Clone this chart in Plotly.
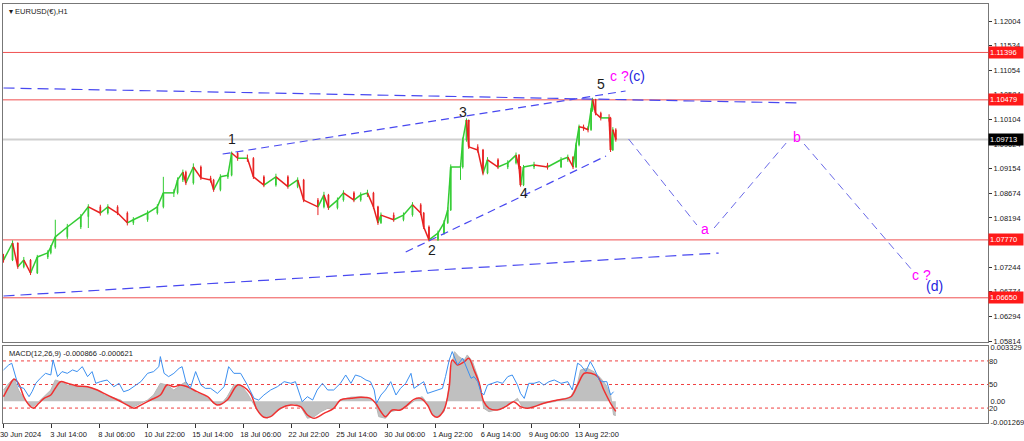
import plotly.graph_objects as go

# ---------------- data ----------------
SYMBOL = "EURUSD(€),H1"
MACD_TITLE = "MACD(12,26,9) -0.000866 -0.000621"

# x = hourly bar index from 30 Jun 2024 22:00 (weekend gaps removed, MT4 style)
tick_bars = [0, 64, 128, 192, 256, 320, 384, 448, 512, 576, 640, 704, 768]
tick_labels = ["30 Jun 2024", "3 Jul 14:00", "8 Jul 06:00", "10 Jul 22:00", "15 Jul 14:00",
               "18 Jul 06:00", "22 Jul 22:00", "25 Jul 14:00", "30 Jul 06:00", "1 Aug 22:00",
               "6 Aug 14:00", "9 Aug 06:00", "13 Aug 22:00"]

price_ticks = [1.12004, 1.11534, 1.11054, 1.10584, 1.10104, 1.09624, 1.09154,
               1.08674, 1.08194, 1.07714, 1.07244, 1.06774, 1.06294, 1.05814]

bars = [0, 12, 19, 27, 36, 45, 59, 63, 69, 85, 103, 113, 129, 139, 152, 165, 173, 192, 205, 213,
        227, 232, 239, 243, 253, 263, 276, 280, 289, 299, 304, 312, 325, 333, 347, 363, 379, 392, 400, 419,
        427, 433, 445, 453, 467, 476, 485, 493, 499, 503, 520, 533, 545, 556, 560, 567, 579, 587, 592, 596,
        609, 612, 617, 620, 632, 639, 645, 659, 672, 683, 687, 689, 693, 707, 725, 743, 752, 759, 763, 767,
        773, 779, 783, 785, 789, 796, 807, 809, 812, 816]
close = [1.0738, 1.0771, 1.0725, 1.0738, 1.0713, 1.0744, 1.0752, 1.0763, 1.0783, 1.0802,
         1.0822, 1.0841, 1.0829, 1.0841, 1.0829, 1.0810, 1.0816, 1.0829, 1.0841, 1.0868,
         1.0868, 1.0893, 1.0908, 1.0887, 1.0918, 1.0897, 1.0893, 1.0874, 1.0899, 1.0902,
         1.0945, 1.0935, 1.0935, 1.0899, 1.0883, 1.0899, 1.0880, 1.0893, 1.0854, 1.0841,
         1.0864, 1.0839, 1.0854, 1.0868, 1.0854, 1.0864, 1.0868, 1.0841, 1.0810, 1.0825,
         1.0816, 1.0825, 1.0845, 1.0829, 1.0802, 1.0777, 1.0790, 1.0810, 1.0835, 1.0918,
         1.0918, 1.0970, 1.1009, 1.0957, 1.0951, 1.0906, 1.0932, 1.0918, 1.0926, 1.0941,
         1.0918, 1.0883, 1.0918, 1.0922, 1.0918, 1.0932, 1.0937, 1.0918, 1.0961, 1.0996,
         1.0994, 1.0990, 1.1028, 1.1049, 1.1022, 1.1013, 1.1013, 1.0951, 1.0990, 1.09713]
high = [1.0750, 1.0776, 1.0772, 1.0744, 1.0740, 1.0748, 1.0757, 1.0767, 1.0816, 1.0808,
        1.0827, 1.0846, 1.0845, 1.0846, 1.0844, 1.0832, 1.0821, 1.0834, 1.0846, 1.0899,
        1.0875, 1.0898, 1.0913, 1.0911, 1.0925, 1.0921, 1.0901, 1.0895, 1.0904, 1.0907,
        1.0948, 1.0947, 1.0942, 1.0937, 1.0902, 1.0905, 1.0902, 1.0898, 1.0895, 1.0858,
        1.0870, 1.0866, 1.0859, 1.0873, 1.0871, 1.0869, 1.0874, 1.0870, 1.0843, 1.0830,
        1.0830, 1.0830, 1.0850, 1.0848, 1.0831, 1.0805, 1.0795, 1.0815, 1.0840, 1.0923,
        1.0925, 1.0975, 1.1012, 1.1005, 1.0962, 1.0953, 1.0937, 1.0935, 1.0931, 1.0946,
        1.0943, 1.0920, 1.0922, 1.0928, 1.0926, 1.0937, 1.0942, 1.0939, 1.0965, 1.1000,
        1.1000, 1.0997, 1.1032, 1.1052, 1.1047, 1.1025, 1.1020, 1.1015, 1.0995, 1.0993]
low = [1.0733, 1.0736, 1.0721, 1.0722, 1.0709, 1.0711, 1.0740, 1.0749, 1.0760, 1.0779,
       1.0798, 1.0800, 1.0824, 1.0826, 1.0825, 1.0805, 1.0806, 1.0812, 1.0826, 1.0838,
       1.0860, 1.0865, 1.0889, 1.0883, 1.0884, 1.0893, 1.0888, 1.0870, 1.0871, 1.0895,
       1.0900, 1.0930, 1.0928, 1.0895, 1.0879, 1.0880, 1.0876, 1.0877, 1.0850, 1.0825,
       1.0838, 1.0835, 1.0836, 1.0851, 1.0850, 1.0851, 1.0860, 1.0837, 1.0806, 1.0808,
       1.0812, 1.0813, 1.0822, 1.0825, 1.0798, 1.0774, 1.0775, 1.0787, 1.0808, 1.0833,
       1.0893, 1.0915, 1.0967, 1.0953, 1.0946, 1.0902, 1.0904, 1.0914, 1.0914, 1.0923,
       1.0914, 1.0880, 1.0881, 1.0914, 1.0913, 1.0916, 1.0928, 1.0914, 1.0916, 1.0958,
       1.0988, 1.0985, 1.0988, 1.1025, 1.1018, 1.1008, 1.1006, 1.0947, 1.0949, 1.0967]
first_open = 1.0745

red_levels = [1.11396, 1.10479, 1.07770, 1.06650]
last_price = 1.09713

# trend / projection lines: (bar0, price0, bar1, price1)
channel_lines = [(0, 1.10708, 1063, 1.10418), (0, 1.06685, 953, 1.07516)]
wedge_lines = [(292, 1.09431, 829, 1.10650), (536, 1.07536, 803, 1.09393)]
projection_legs = [(833, 1.09722, 924, 1.08058), (947, 1.08000, 1043, 1.09644), (1067, 1.09625, 1213, 1.07149)]

# wave labels: bar, price, text, colour
wave_labels = [
    (304, 1.0972, "1", "#1c1c1c"), (571, 1.07575, "2", "#1c1c1c"), (612, 1.10244, "3", "#1c1c1c"),
    (693, 1.08677, "4", "#1c1c1c"), (796, 1.10785, "5", "#1c1c1c"),
    (935, 1.07981, "a", "#ff00ff"), (1057, 1.09760, "b", "#ff00ff"),
    (1224, 1.07091, "c ?", "#ff00ff"), (1241, 1.06878, "(d)", "#1f1fe0"),
]
top_label = (831, 1.10940)

# MACD histogram (main) and signal
macd_bars = [0, 7, 14, 20, 27, 34, 40, 47, 54, 63, 69, 76, 85, 98, 112, 125, 134, 143, 156, 165,
             174, 183, 192, 200, 209, 218, 227, 236, 243, 249, 258, 267, 280, 289, 298, 307, 316, 325, 334, 343,
             352, 360, 374, 387, 396, 405, 414, 423, 432, 440, 449, 463, 476, 489, 496, 500, 509, 516, 525, 534,
             543, 552, 558, 565, 572, 578, 587, 592, 596, 601, 607, 614, 618, 625, 632, 636, 640, 647, 656, 665,
             676, 685, 691, 698, 707, 720, 734, 747, 756, 765, 769, 778, 787, 796, 803, 809, 813, 816]
macd_vals = [0.00069, 0.00110, 0.00141, 0.00069, 0.00018, -0.00023, -0.00033, -0.00002, 0.00028, 0.00069,
             0.00131, 0.00120, 0.00100, 0.00089, 0.00089, 0.00069, 0.00039, 0.00028, 0.00008, -0.00023,
             -0.00033, -0.00012, 0.00008, 0.00039, 0.00110, 0.00100, 0.00069, 0.00100, 0.00120, 0.00080,
             0.00049, 0.00039, -0.00012, -0.00023, 0.00028, 0.00100, 0.00100, 0.00049, -0.00023, -0.00084,
             -0.00104, -0.00074, -0.00033, -0.00012, -0.00033, -0.00104, -0.00094, -0.00064, -0.00043, -0.00043,
             0.00008, 0.00025, 0.00028, 0.00018, -0.00012, -0.00094, -0.00104, -0.00064, -0.00053, -0.00043,
             -0.00012, 0.00018, 0.00028, -0.00012, -0.00084, -0.00094, -0.00064, 0.00028, 0.00192, 0.00304,
             0.00273, 0.00253, 0.00284, 0.00243, 0.00151, 0.00069, -0.00043, -0.00064, -0.00053, -0.00043,
             -0.00012, 0.00018, -0.00033, -0.00043, -0.00033, -0.00012, -0.00002, 0.00018, 0.00028, 0.00110,
             0.00192, 0.00202, 0.00181, 0.00141, 0.00100, 0.00039, -0.00084, -0.000866]
signal_bars = [0, 7, 14, 20, 27, 34, 40, 47, 54, 63, 69, 76, 85, 98, 112, 125, 138, 152, 165, 174,
               183, 196, 209, 218, 227, 236, 245, 258, 272, 285, 298, 312, 320, 329, 338, 347, 356, 369, 383, 396,
               405, 414, 427, 440, 449, 463, 476, 489, 496, 503, 509, 518, 529, 538, 547, 556, 565, 572, 578, 587,
               594, 598, 605, 614, 620, 627, 634, 640, 647, 658, 669, 680, 689, 698, 707, 720, 738, 756, 765, 774,
               783, 792, 800, 809, 816]
signal_vals = [0.00028, 0.00089, 0.00135, 0.00110, 0.00028, -0.00023, -0.00043, -0.00012, 0.00018, 0.00039,
               0.00080, 0.00120, 0.00110, 0.00094, 0.00089, 0.00069, 0.00039, 0.00008, -0.00023, -0.00043,
               -0.00023, 0.00008, 0.00039, 0.00100, 0.00089, 0.00100, 0.00089, 0.00059, 0.00028, -0.00023,
               0.00008, 0.00100, 0.00089, 0.00049, -0.00053, -0.00098, -0.00094, -0.00043, -0.00023, -0.00033,
               -0.00084, -0.00104, -0.00074, -0.00043, 0.00008, 0.00018, 0.00025, 0.00018, -0.00012, -0.00064,
               -0.00094, -0.00053, -0.00053, -0.00023, 0.00012, 0.00018, -0.00023, -0.00084, -0.00098, -0.00053,
               0.00089, 0.00253, 0.00223, 0.00243, 0.00264, 0.00192, 0.00110, -0.00002, -0.00043, -0.00053,
               -0.00033, -0.00002, -0.00033, -0.00043, -0.00033, -0.00012, 0.00008, 0.00028, 0.00100, 0.00172,
               0.00172, 0.00151, 0.00069, -0.00012, -0.000621]
# oscillator drawn on the 0-100 scale (levels 20/50/80)
osc_bars = [0, 7, 11, 16, 20, 27, 34, 38, 43, 49, 56, 63, 66, 72, 78, 85, 92, 98, 105, 112,
            118, 123, 129, 138, 147, 154, 160, 167, 174, 183, 192, 200, 207, 209, 214, 220, 227, 234, 238, 243,
            249, 256, 263, 269, 276, 285, 294, 300, 307, 316, 325, 334, 340, 347, 356, 365, 374, 383, 389, 394,
            398, 405, 412, 418, 425, 432, 440, 449, 456, 463, 469, 476, 483, 489, 494, 497, 503, 509, 516, 523,
            529, 536, 543, 547, 554, 560, 565, 572, 578, 585, 589, 594, 598, 605, 612, 618, 623, 627, 632, 636,
            640, 645, 652, 658, 665, 672, 678, 685, 689, 694, 700, 707, 714, 720, 727, 734, 743, 752, 758, 765,
            769, 776, 782, 787, 794, 798, 804, 809, 813]
osc_vals = [68.5, 74.9, 77.0, 60.0, 47.2, 45.1, 34.5, 40.8, 51.5, 57.9, 64.2, 62.1, 81.2, 60.0, 66.4, 64.2, 68.5, 66.4, 72.7, 60.0,
            66.4, 51.5, 53.6, 55.7, 47.2, 51.5, 40.8, 43.0, 47.2, 53.6, 64.2, 66.4, 72.7, 85.5, 64.2, 60.0, 64.2, 70.6, 72.7, 53.6,
            45.1, 66.4, 49.3, 45.1, 45.1, 38.7, 47.2, 72.7, 64.2, 64.2, 49.3, 32.3, 30.2, 36.6, 43.0, 47.2, 53.6, 51.5, 53.6, 40.8,
            28.1, 34.5, 30.2, 43.0, 51.5, 43.0, 43.0, 51.5, 62.1, 51.5, 62.1, 60.0, 55.7, 53.6, 43.0, 26.0, 36.6, 43.0, 53.6, 36.6,
            45.1, 51.5, 64.2, 45.1, 49.3, 53.6, 38.7, 40.8, 43.0, 45.1, 60.0, 81.2, 91.9, 74.9, 83.4, 68.5, 57.9, 60.0, 53.6, 40.8,
            36.6, 49.3, 51.5, 53.6, 51.5, 60.0, 62.1, 49.3, 38.7, 32.3, 51.5, 51.5, 53.6, 49.3, 53.6, 55.7, 51.5, 53.6, 43.0, 77.0,
            74.9, 66.4, 79.1, 70.6, 55.7, 53.6, 53.6, 36.6, 40.8]
osc_levels = [80, 50, 20]

# ---------------- figure ----------------
FONT = "Liberation Sans"
X_RANGE = [-0.7, 1312]
opens = [first_open] + close[:-1]

fig = go.Figure()

# price path segments (green up / red down) so the dense H1 series reads as a continuous band
up_x, up_y, dn_x, dn_y = [], [], [], []
for i in range(len(bars)):
    x0 = bars[i - 1] if i > 0 else bars[0] - 3
    seg_x, seg_y = [x0, bars[i], None], [opens[i], close[i], None]
    if close[i] >= opens[i]:
        up_x += seg_x; up_y += seg_y
    else:
        dn_x += seg_x; dn_y += seg_y
fig.add_trace(go.Scatter(x=up_x, y=up_y, mode="lines", line=dict(color="#33cc33", width=1.5),
                         hoverinfo="skip", showlegend=False, xaxis="x", yaxis="y"))
fig.add_trace(go.Scatter(x=dn_x, y=dn_y, mode="lines", line=dict(color="#e82020", width=1.5),
                         hoverinfo="skip", showlegend=False, xaxis="x", yaxis="y"))
fig.add_trace(go.Candlestick(x=bars, open=opens, high=high, low=low, close=close,
                             increasing=dict(line=dict(color="#33cc33", width=1), fillcolor="#33cc33"),
                             decreasing=dict(line=dict(color="#e82020", width=1), fillcolor="#e82020"),
                             whiskerwidth=0, showlegend=False, hoverinfo="skip", xaxis="x", yaxis="y"))

# dashed trend lines
for (b0, p0, b1, p1) in channel_lines:
    fig.add_trace(go.Scatter(x=[b0, b1], y=[p0, p1], mode="lines",
                             line=dict(color="#4848f0", width=1.2, dash="11px,6px"),
                             hoverinfo="skip", showlegend=False, xaxis="x", yaxis="y"))
for (b0, p0, b1, p1) in wedge_lines:
    fig.add_trace(go.Scatter(x=[b0, b1], y=[p0, p1], mode="lines",
                             line=dict(color="#4848f0", width=1.2, dash="8px,5px"),
                             hoverinfo="skip", showlegend=False, xaxis="x", yaxis="y"))
for (b0, p0, b1, p1) in projection_legs:
    fig.add_trace(go.Scatter(x=[b0, b1], y=[p0, p1], mode="lines",
                             line=dict(color="#6a6ae8", width=1, dash="8px,5px"),
                             hoverinfo="skip", showlegend=False, xaxis="x", yaxis="y"))

# MACD panel
fig.add_trace(go.Scatter(x=macd_bars, y=macd_vals, mode="lines", fill="tozeroy",
                         fillcolor="#c0c0c0", line=dict(color="#b8b8b8", width=1),
                         hoverinfo="skip", showlegend=False, xaxis="x2", yaxis="y2"))
fig.add_trace(go.Scatter(x=signal_bars, y=signal_vals, mode="lines",
                         line=dict(color="#f03030", width=1.5, shape="spline"),
                         hoverinfo="skip", showlegend=False, xaxis="x2", yaxis="y2"))
fig.add_trace(go.Scatter(x=osc_bars, y=osc_vals, mode="lines",
                         line=dict(color="#3b8ff0", width=1),
                         hoverinfo="skip", showlegend=False, xaxis="x2", yaxis="y3"))

shapes = []
for lv in red_levels:
    shapes.append(dict(type="line", xref="paper", x0=0, x1=1, yref="y", y0=lv, y1=lv,
                       line=dict(color="#f05050", width=1), layer="below"))
shapes.append(dict(type="line", xref="paper", x0=0, x1=1, yref="y", y0=last_price, y1=last_price,
                   line=dict(color="#cfcfcf", width=2), layer="below"))
for lv in osc_levels:
    shapes.append(dict(type="line", xref="paper", x0=0, x1=1, yref="y3", y0=lv, y1=lv,
                       line=dict(color="#f04040", width=1, dash="dot"), layer="below"))
# light strip under the time scale
shapes.append(dict(type="rect", xref="paper", yref="paper", x0=-0.01, x1=1.05, y0=-0.0435, y1=-0.06,
                   fillcolor="#f0f0f0", line=dict(width=0), layer="below"))

annotations = []
for (b, p, t, c) in wave_labels:
    annotations.append(dict(x=b, y=p, xref="x", yref="y", text=t, showarrow=False,
                            font=dict(family=FONT, size=14, color=c)))
annotations.append(dict(x=top_label[0], y=top_label[1], xref="x", yref="y", showarrow=False,
                        text='<span style="color:#ff00ff">c ?</span><span style="color:#1f1fe0">(c)</span>',
                        font=dict(family=FONT, size=14)))
# price tags on the right axis
for lv in red_levels:
    annotations.append(dict(x=1, xref="paper", xanchor="left", y=lv, yref="y", text=f"{lv:.5f}",
                            showarrow=False, bgcolor="#ff1a1a", borderpad=1, width=32, align="left",
                            font=dict(family=FONT, size=7.5, color="white")))
annotations.append(dict(x=1, xref="paper", xanchor="left", y=last_price, yref="y", text=f"{last_price:.5f}",
                        showarrow=False, bgcolor="#000000", borderpad=1, width=32, align="left",
                        font=dict(family=FONT, size=7.5, color="white")))
# titles
annotations.append(dict(x=0.004, y=1, xref="paper", yref="paper", xanchor="left", yanchor="top",
                        yshift=-1, showarrow=False, text="▾ " + SYMBOL,
                        font=dict(family=FONT, size=7.5, color="#202020")))
annotations.append(dict(x=0.004, y=0.1838, xref="paper", yref="paper", xanchor="left", yanchor="top",
                        yshift=-1, showarrow=False, text=MACD_TITLE,
                        font=dict(family=FONT, size=7.5, color="#202020")))

axis_common = dict(showgrid=False, zeroline=False, showline=True, mirror=True,
                   linecolor="#777777", linewidth=1)

fig.update_layout(
    width=1024, height=441,
    margin=dict(l=3, r=36, t=4, b=18),
    paper_bgcolor="white", plot_bgcolor="white",
    template="none", showlegend=False,
    font=dict(family=FONT, size=7.5, color="#202020"),
    xaxis=dict(domain=[0, 1], range=X_RANGE, anchor="y", showticklabels=False, ticks="",
               rangeslider=dict(visible=False), **axis_common),
    yaxis=dict(domain=[0.1933, 1], range=[1.05795, 1.12333], side="right", anchor="x",
               tickvals=price_ticks, tickformat=".5f", ticks="outside", ticklen=3,
               tickcolor="#333333", tickfont=dict(family=FONT, size=7.5, color="#202020"),
               ticklabeloverflow="allow", **axis_common),
    xaxis2=dict(domain=[0, 1], range=X_RANGE, anchor="y2", tickvals=tick_bars, ticktext=tick_labels,
                ticks="outside", ticklen=4, tickcolor="#333333", ticklabelshift=17,
                ticklabeloverflow="allow",
                tickfont=dict(family=FONT, size=7.5, color="#202020"), **axis_common),
    yaxis2=dict(domain=[0, 0.1838], range=[-0.00133, 0.00339], side="right", anchor="x2",
                tickvals=[0.003329, 0.0, -0.001269], ticktext=["0.003329", "0.00", "-0.001269"],
                ticks="", ticklabeloverflow="allow",
                tickfont=dict(family=FONT, size=7.5, color="#202020"), **axis_common),
    yaxis3=dict(overlaying="y2", side="right", anchor="x2", range=[1, 99],
                tickvals=osc_levels, ticktext=[str(v) for v in osc_levels], ticks="",
                showgrid=False, zeroline=False, showline=False,
                tickfont=dict(family=FONT, size=7.5, color="#202020")),
    shapes=shapes, annotations=annotations,
)

fig.write_html("out.html", config={"displayModeBar": False},
               post_script="document.body.style.margin='0';document.body.style.overflow='hidden';")
